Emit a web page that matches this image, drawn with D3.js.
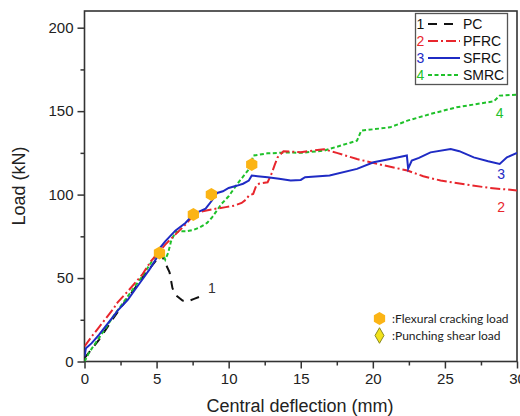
<!DOCTYPE html>
<html>
<head>
<meta charset="utf-8">
<script src="https://cdn.jsdelivr.net/npm/d3@7"></script>
<style>
  html, body { margin: 0; padding: 0; background: #fff; }
  svg { display: block; }
</style>
</head>
<body>
<svg id="chart" width="520" height="416"></svg>
<script>
// ---------- data ----------
const xTicks = [0, 5, 10, 15, 20, 25, 30];
const xMinorTicks = [2.5, 7.5, 12.5, 17.5, 22.5, 27.5];
const yTicks = [0, 50, 100, 150, 200];
const yMinorTicks = [25, 75, 125, 175];

const seriesNames = ["PC", "PFRC", "SFRC", "SMRC"];
const seriesNumbers = ["1", "2", "3", "4"];

const pcData = [[0,2],[1,13],[2,26],[3,38],[4,50],[5,61],[5.3,65],[5.6,59],[5.9,53.5],[6.1,44],[6.3,40],[6.8,36.5],[7.2,36.2],[7.6,37.5],[8.2,39.5]];

const pfrcData = [[0,9],[0.5,15],[1,20.5],[2,31.5],[2.3,35.5],[3,42],[4,52],[4.6,60],[5.3,67],[5.6,70],[6,73.5],[7,82],[7.6,88],[8.2,90],[9,91.4],[9.8,92.5],[10.4,93.4],[10.9,95],[11.2,97],[11.4,99.4],[11.7,100.4],[11.9,105],[12.1,106.5],[12.7,107.4],[13.0,113],[13.2,118],[13.4,122.4],[13.8,126],[15,125.4],[16.6,127.2],[17.5,125],[18.9,121.3],[20.3,118.4],[22.4,114.4],[23.5,111],[24.7,108.4],[26.5,106],[28.1,104],[30,102.5]];

const sfrcData = [[0,3],[0.1,8],[0.5,11],[1,16],[2,27],[2.3,30.5],[3,37],[3.5,43],[4,49],[4.5,55],[5,62],[5.27,68.4],[5.6,72],[6.3,78.4],[7,83],[7.57,88.4],[8.4,91.6],[8.8,96],[9.2,101],[9.6,102],[10,104],[10.6,105.4],[11,106.5],[11.4,108.4],[11.6,111.4],[12,111],[12.7,110.4],[13.5,109.5],[14.3,108.4],[15,108.8],[15.3,110.4],[17,111.4],[18.9,115.4],[20.05,119.4],[21.2,121.3],[22.36,123.4],[22.45,115.5],[22.7,120.4],[23.2,122],[24,125.3],[25.4,127.3],[26,126],[27,122.3],[28,120],[28.8,118.4],[29.3,122.3],[30,125]];

const smrcData = [[0,0],[0.3,5],[0.6,9],[1,14],[2,27],[3,39],[4,51],[4.6,59],[5.2,67],[5.4,65],[5.6,61],[5.8,65],[6.0,72],[6.3,77.5],[6.7,78],[7.1,78],[7.6,79],[8.0,80.4],[8.5,83],[8.85,86.4],[9.5,94.4],[10,99],[10.6,106.4],[11.5,116.3],[11.7,123.4],[12.7,124.7],[14.3,125.3],[15,125],[16.6,126.3],[18.9,132.3],[19.2,138.3],[21.2,140.3],[22.4,144.3],[24,148.3],[25.8,152.3],[28.4,155.9],[28.8,159.3],[30.2,160]];

const crackingPoints = [[5.2,65],[7.55,88],[8.8,100],[11.6,118]];

// curve end labels: [x, y, text]
const curveLabels = [[8.83,41,"1"],[28.9,89.6,"2"],[28.9,109.3,"3"],[28.8,145.9,"4"]];

// ---------- layout ----------
const colors = ["#111111", "#e8262d", "#1f2bc4", "#1fc12a"];
const dashes = ["9,7", "10,3,2,3", null, "4,2.5"];
const allSeries = [pcData, pfrcData, sfrcData, smrcData];

const svg = d3.select("#chart");
const pLeft = 84.5, pRight = 517, pTop = 11, pBottom = 361.5;

const x = d3.scaleLinear().domain([0, 30]).range([pLeft, pRight]);
const y = d3.scaleLinear().domain([0, 210]).range([pBottom, pTop]);

const font = "'Liberation Sans', Arial, sans-serif";

svg.append("defs").append("clipPath").attr("id", "plotclip")
  .append("rect").attr("x", pLeft).attr("y", pTop).attr("width", pRight - pLeft).attr("height", pBottom - pTop);

// axes
const xAxis = svg.append("g").attr("transform", `translate(0,${pBottom})`)
  .call(d3.axisBottom(x).tickValues(xTicks).tickSize(7).tickSizeOuter(0).tickPadding(5));
const xMinor = svg.append("g").attr("transform", `translate(0,${pBottom})`)
  .call(d3.axisBottom(x).tickValues(xMinorTicks).tickSize(4).tickSizeOuter(0).tickFormat(""));
const yAxis = svg.append("g").attr("transform", `translate(${pLeft},0)`)
  .call(d3.axisLeft(y).tickValues(yTicks).tickSize(7).tickSizeOuter(0).tickPadding(4));
const yMinor = svg.append("g").attr("transform", `translate(${pLeft},0)`)
  .call(d3.axisLeft(y).tickValues(yMinorTicks).tickSize(4).tickSizeOuter(0).tickFormat(""));

[xAxis, xMinor, yAxis, yMinor].forEach(g => {
  g.select(".domain").remove();
  g.selectAll(".tick line").attr("stroke", "#333").attr("stroke-width", 1.5);
  g.selectAll(".tick text").attr("font-family", font).attr("font-size", 15).attr("fill", "#222");
});

// frame
svg.append("rect").attr("x", pLeft).attr("y", pTop).attr("width", pRight - pLeft).attr("height", pBottom - pTop)
  .attr("fill", "none").attr("stroke", "#333").attr("stroke-width", 1.6);

// axis titles
svg.append("text").attr("x", 300).attr("y", 412).attr("text-anchor", "middle")
  .attr("font-family", font).attr("font-size", 18).attr("fill", "#222").text("Central deflection (mm)");
svg.append("text").attr("transform", "translate(25,186) rotate(-90)").attr("text-anchor", "middle")
  .attr("font-family", font).attr("font-size", 18).attr("fill", "#222").text("Load (kN)");

// curves
const line = d3.line().x(d => x(d[0])).y(d => y(d[1]));
const plot = svg.append("g").attr("clip-path", "url(#plotclip)");
const drawOrder = [0, 3, 1, 2];
drawOrder.forEach(i => {
  plot.append("path").datum(allSeries[i])
    .attr("d", line).attr("fill", "none")
    .attr("stroke", colors[i]).attr("stroke-width", 2)
    .attr("stroke-dasharray", dashes[i]);
});

// cracking markers (hexagons)
const hex = r => d3.range(6).map(k => {
  const a = Math.PI / 6 + k * Math.PI / 3;
  return [r * Math.cos(a), r * Math.sin(a)];
});
const hexPath = "M" + hex(6.5).map(p => p.join(",")).join("L") + "Z";
plot.selectAll(".crack").data(crackingPoints).enter().append("path")
  .attr("transform", d => `translate(${x(d[0])},${y(d[1])})`)
  .attr("d", hexPath).attr("fill", "#fbb415");

// curve labels
curveLabels.forEach((d, i) => {
  svg.append("text").attr("x", x(d[0])).attr("y", y(d[1])).attr("text-anchor", "middle")
    .attr("font-family", font).attr("font-size", 14).attr("fill", i === 0 ? "#333" : colors[i]).text(d[2]);
});

// legend
const lg = svg.append("g");
lg.append("rect").attr("x", 415.5).attr("y", 13.5).attr("width", 92).attr("height", 71)
  .attr("fill", "#fff").attr("stroke", "#555").attr("stroke-width", 1.3);
seriesNames.forEach((name, i) => {
  const cy = 24 + i * 17;
  lg.append("text").attr("x", 420.5).attr("y", cy + 5).attr("text-anchor", "middle")
    .attr("font-family", font).attr("font-size", 14).attr("fill", i === 0 ? "#111" : colors[i]).text(seriesNumbers[i]);
  lg.append("line").attr("x1", 428).attr("x2", 460).attr("y1", cy).attr("y2", cy)
    .attr("stroke", colors[i]).attr("stroke-width", 2).attr("stroke-dasharray", dashes[i]);
  lg.append("text").attr("x", 463).attr("y", cy + 5)
    .attr("font-family", font).attr("font-size", 14).attr("fill", "#111").text(name);
});

// marker legend
const mfont = "Lato, 'Open Sans', sans-serif";
svg.append("path").attr("transform", "translate(379.5,318.5)").attr("d", hexPath).attr("fill", "#fbb415");
svg.append("text").attr("x", 392).attr("y", 322.5).attr("font-family", mfont).attr("font-size", 12)
  .attr("fill", "#222").text(":Flexural cracking load");
svg.append("path").attr("transform", "translate(379.5,335.5)")
  .attr("d", d3.symbol(d3.symbolDiamond, 70)()).attr("fill", "#f2e21a").attr("stroke", "#8a8a20").attr("stroke-width", 1);
svg.append("text").attr("x", 392).attr("y", 339.5).attr("font-family", mfont).attr("font-size", 12)
  .attr("fill", "#222").text(":Punching shear load");
</script>
</body>
</html>
